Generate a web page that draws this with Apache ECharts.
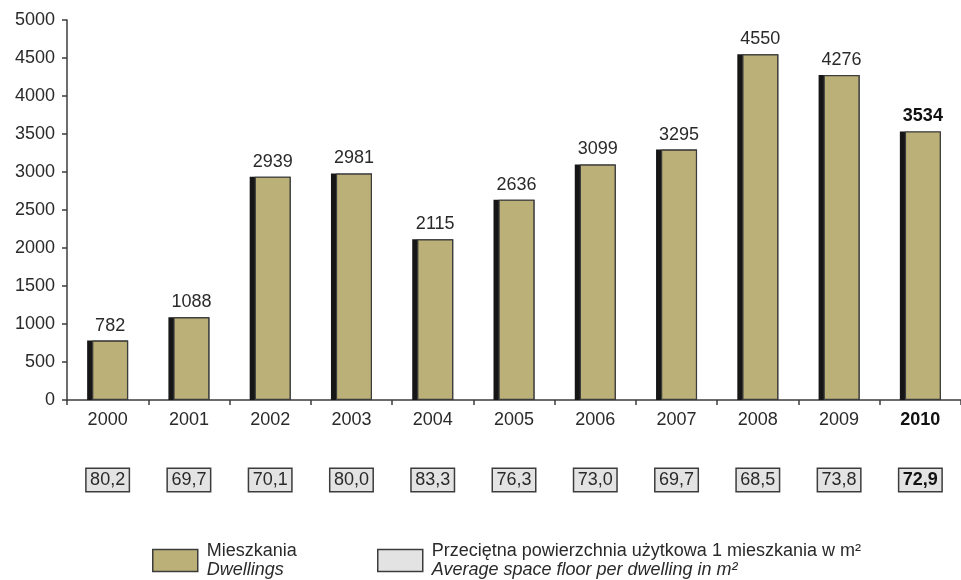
<!DOCTYPE html>
<html>
<head>
<meta charset="utf-8">
<script src="https://cdn.jsdelivr.net/npm/echarts@6/dist/echarts.min.js"></script>
<style>
  html, body { margin: 0; padding: 0; background: #fff; }
  #chart { width: 961px; height: 580px; }
</style>
</head>
<body>
<div id="chart"></div>
<script>
// Dwellings completed per year and average usable floor space per dwelling
const years = ['2000', '2001', '2002', '2003', '2004', '2005', '2006', '2007', '2008', '2009', '2010'];
const dwellings = [782, 1088, 2939, 2981, 2115, 2636, 3099, 3295, 4550, 4276, 3534];
const avgFloor = ['80,2', '69,7', '70,1', '80,0', '83,3', '76,3', '73,0', '69,7', '68,5', '73,8', '72,9'];
const yTicks = [0, 500, 1000, 1500, 2000, 2500, 3000, 3500, 4000, 4500, 5000];

const FONT = 'Liberation Sans, Arial, sans-serif';
const FS = 18;
const TXT = '#2a2a2a';
const KHAKI = '#bbb178';
const BOX = '#e3e3e3';
const EDGE = '#3c3c3c';
const DARK = '#161616';
const lastIdx = years.length - 1;

const nameDw = 'Mieszkania';
const nameAvg = 'Przeciętna';

const boxStyle = {
  fontSize: FS, color: TXT, width: 42, height: 20, lineHeight: 20, align: 'center',
  backgroundColor: BOX, borderColor: EDGE, borderWidth: 1.5, padding: [1, 0, 1, 0]
};

const legendRich = {
  a: { fontSize: FS, color: TXT, lineHeight: 19, fontFamily: FONT, padding: [0, 0, 0, 4] },
  i: { fontSize: FS, color: TXT, lineHeight: 19, fontStyle: 'italic', fontFamily: FONT, padding: [0, 0, 0, 4] }
};

const chart = echarts.init(document.getElementById('chart'), null, { renderer: 'canvas' });

chart.setOption({
  animation: false,
  textStyle: { fontFamily: FONT },
  grid: { left: 67, top: 20, height: 380, width: 904 },
  xAxis: [
    {
      type: 'category',
      data: years,
      axisLine: { lineStyle: { color: EDGE, width: 1.5 } },
      axisTick: { show: true, interval: 0, length: 5, lineStyle: { color: EDGE, width: 1.5 } },
      axisLabel: {
        interval: 0,
        margin: 11,
        fontSize: FS,
        color: TXT,
        formatter: (v, i) => i === lastIdx ? '{b|' + v + '}' : v,
        rich: { b: { fontSize: FS, fontWeight: 'bold', color: '#111' } }
      }
    },
    {
      type: 'category',
      data: years,
      position: 'bottom',
      axisLine: { show: false },
      axisTick: { show: false },
      axisLabel: {
        interval: 0,
        margin: 70,
        fontSize: FS,
        color: TXT,
        formatter: (v, i) => i === lastIdx ? '{bb|' + avgFloor[i] + '}' : '{n|' + avgFloor[i] + '}',
        rich: {
          n: boxStyle,
          bb: Object.assign({}, boxStyle, { fontWeight: 'bold', color: '#111' })
        }
      }
    }
  ],
  yAxis: {
    type: 'value',
    min: yTicks[0],
    max: yTicks[yTicks.length - 1],
    interval: 500,
    splitLine: { show: false },
    axisLine: { show: true, lineStyle: { color: EDGE, width: 1.5 } },
    axisTick: { show: true, length: 5, lineStyle: { color: EDGE, width: 1.5 } },
    axisLabel: { margin: 12, fontSize: FS, color: TXT, formatter: v => String(v) }
  },
  legend: [
    {
      left: 147, top: 537,
      data: [{ name: nameDw, itemStyle: { color: KHAKI, borderColor: EDGE, borderWidth: 1.5 } }],
      icon: 'rect', itemWidth: 45, itemHeight: 22, itemGap: 10,
      selectedMode: false,
      formatter: () => '{a|Mieszkania}\n{i|Dwellings}',
      textStyle: { rich: legendRich }
    },
    {
      left: 372, top: 537,
      data: [{ name: nameAvg, itemStyle: { color: BOX, borderColor: EDGE, borderWidth: 1.5 } }],
      icon: 'rect', itemWidth: 45, itemHeight: 22, itemGap: 10,
      selectedMode: false,
      formatter: () => '{a|Przeciętna powierzchnia użytkowa 1 mieszkania w m²}\n{i|Average space floor per dwelling in m²}',
      textStyle: { rich: legendRich }
    }
  ],
  series: [
    // dark side face of each column, drawn behind the khaki front
    {
      name: 'side',
      type: 'bar',
      barWidth: 41,
      barGap: '-87.8%',
      data: dwellings,
      itemStyle: { color: DARK },
      silent: true,
      emphasis: { disabled: true }
    },
    {
      name: nameDw,
      type: 'bar',
      barWidth: 36,
      barGap: '-87.8%',
      data: dwellings.map((v, i) => i === lastIdx
        ? { value: v, label: { fontWeight: 'bold', color: '#111' } }
        : v),
      itemStyle: {
        color: KHAKI,
        borderColor: EDGE,
        borderWidth: 1.2
      },
      label: {
        show: true,
        position: 'top',
        distance: 6,
        fontSize: FS,
        color: TXT
      },
      emphasis: { disabled: true }
    },
    {
      name: nameAvg,
      type: 'line',
      data: [],
      itemStyle: { color: BOX }
    }
  ]
});
</script>
</body>
</html>
